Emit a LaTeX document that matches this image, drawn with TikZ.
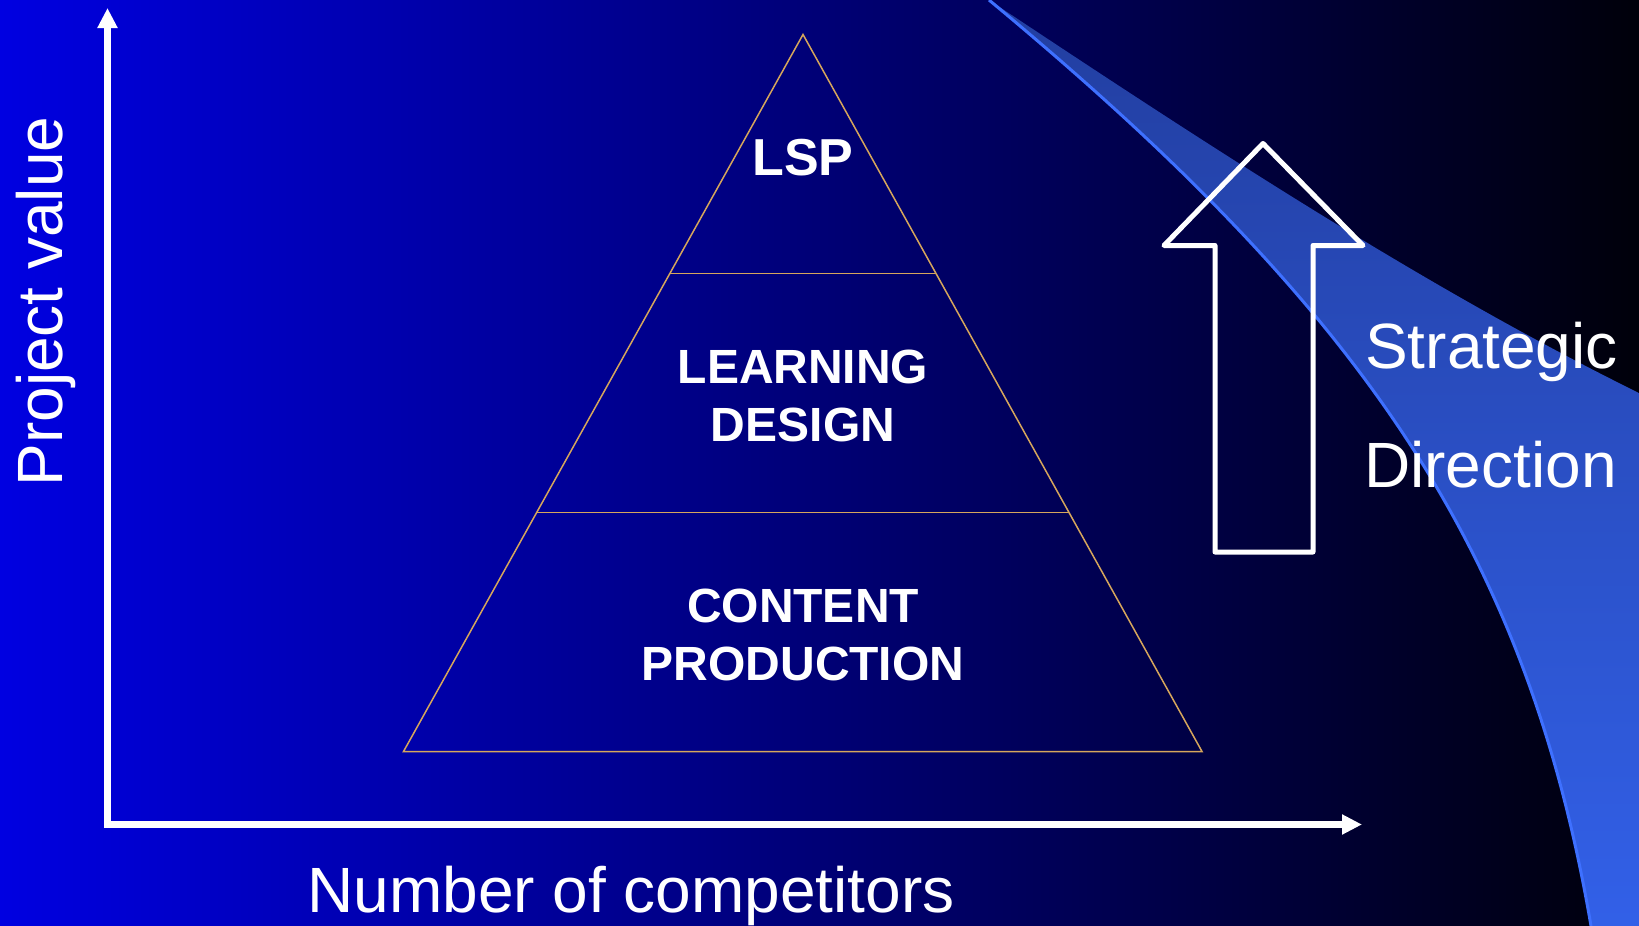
\documentclass[tikz,border=0pt]{standalone}
\usepackage{fontspec}
\setmainfont{Liberation Sans}
\usepackage{tikz}
\usetikzlibrary{positioning,arrows.meta,calc}
\definecolor{bgblue}{RGB}{0,0,225}
\definecolor{bgdark}{RGB}{0,0,10}
\definecolor{bandtop}{RGB}{34,62,160}
\definecolor{bandbot}{RGB}{50,96,232}
\definecolor{bandedge}{RGB}{62,112,255}
\definecolor{tier}{RGB}{214,166,92}
\tikzstyle{axis} = [white,line width=6.5pt,<->,>={Triangle[length=20pt,width=19pt]}]

\begin{document}
\begin{tikzpicture}[x=1pt,y=-1pt]
	\tikzstyle{axistext} = [text=white, inner sep=0pt, font=\fontsize{64}{70}\selectfont];
	\tikzstyle{tiertext} = [text=white, inner sep=0pt, align=center, font=\bfseries\fontsize{48}{58}\selectfont];
	\tikzstyle{tierline} = [tier, line width=1.5pt];
	\useasboundingbox (0,0) rectangle (1639,926);
	\shade [left color=bgblue, right color=bgdark] (0,0) rectangle (1639,926);
	\shade [top color=bandtop, bottom color=bandbot] (989,0) .. controls (1200,140) and (1420,285) .. (1639,393) -- (1639,926) -- (1591,926) .. controls (1526,546) and (1359,307) .. (989,0) -- cycle;
	\draw [bandedge, line width=3pt] (989,0) .. controls (1359,307) and (1526,546) .. (1591,926);
	\coordinate (apex) at (803,34.5);
	\coordinate (left) at (403.5,751.5);
	\coordinate (right) at (1202,751.5);
	\draw [tierline] (apex) -- (left) -- (right) -- cycle;
	\draw [tierline] ($(apex)!1/3!(left)$) -- ($(apex)!1/3!(right)$);
	\draw [tierline] ($(apex)!2/3!(left)$) -- ($(apex)!2/3!(right)$);
	\node (lsp) [tiertext, font=\bfseries\fontsize{52}{60}\selectfont, anchor=base] at (803,175) {LSP};
	\node (design) [tiertext] at (803,395.5) {LEARNING\\DESIGN};
	\node (content) [tiertext] at (803,635) {CONTENT\\PRODUCTION};
	\draw [white, line width=5pt, line join=round] (1263,143.5) -- (1363,245.5) -- (1313,245.5) -- (1313,552) -- (1215,552) -- (1215,245.5) -- (1164,245.5) -- cycle;
	\node (strategic) [axistext, anchor=base west] at (1365,368) {Strategic};
	\node (direction) [axistext, anchor=base west] at (1364,487) {Direction};
	\coordinate (origin) at (107.5,824.5);
	\coordinate (ytip) at (107.5,8);
	\coordinate (xtip) at (1362,824.5);
	\draw [axis] (ytip) -- (origin) -- (xtip);
	\node (value) [axistext, rotate=90, anchor=base] at (62,301.5) {Project value};
	\node (competitors) [axistext, anchor=base] at (631,912) {Number of competitors};
\end{tikzpicture}
\end{document}
